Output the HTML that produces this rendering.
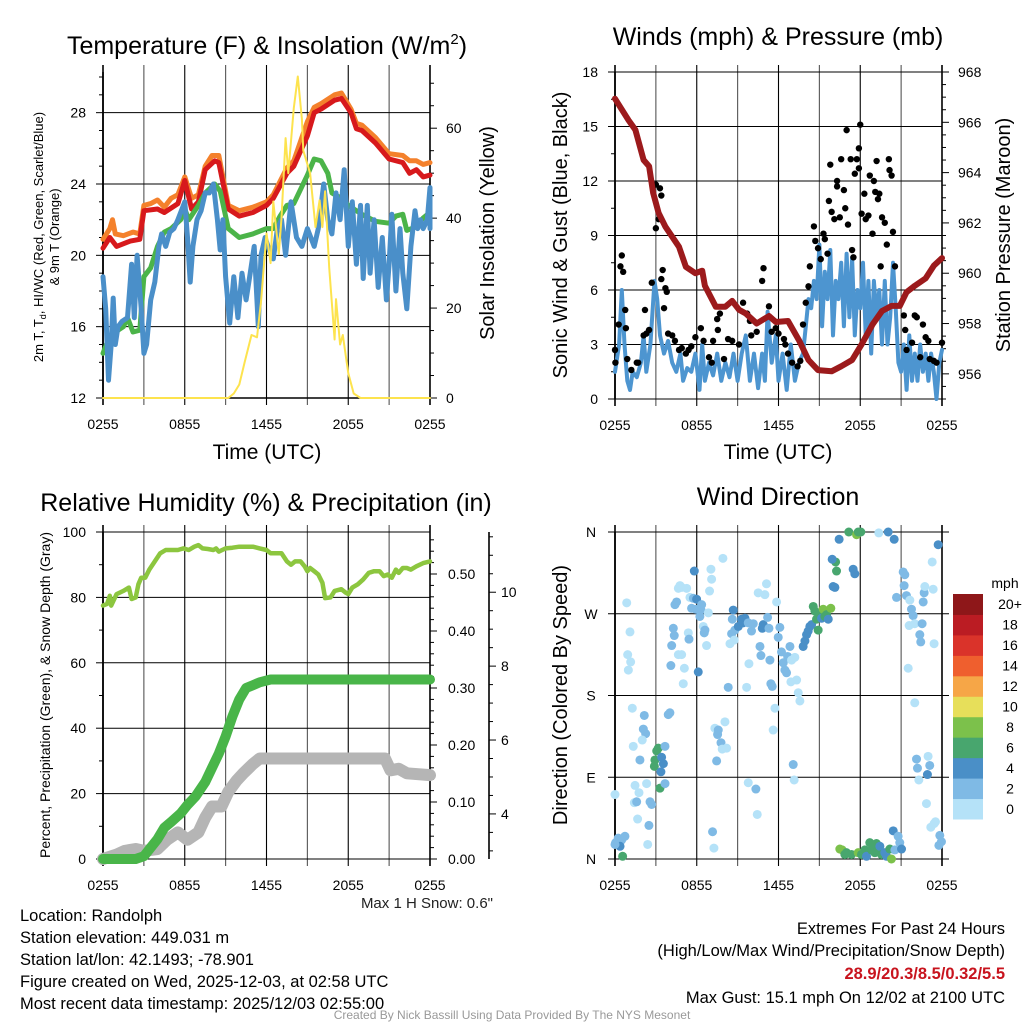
<!DOCTYPE html>
<html><head><meta charset="utf-8"><style>
body{margin:0;background:#fff}
svg{display:block;font-family:"Liberation Sans",sans-serif}
</style></head><body>
<svg id="s" width="1024" height="1024" viewBox="0 0 1024 1024" xmlns="http://www.w3.org/2000/svg">
<g font-size="25" text-anchor="middle" fill="#000">
<text x="267" y="54">Temperature (F) &amp; Insolation (W/m<tspan dy="-10" font-size="15">2</tspan><tspan dy="10">)</tspan></text>
<text x="778" y="45">Winds (mph) &amp; Pressure (mb)</text>
<text x="266" y="511">Relative Humidity (%) &amp; Precipitation (in)</text>
<text x="778" y="505">Wind Direction</text>
</g>
<g text-anchor="middle" fill="#000">
<text x="267" y="459" font-size="21">Time (UTC)</text>
<text x="778" y="459" font-size="21">Time (UTC)</text>
<text transform="translate(43,237) rotate(-90)" font-size="13">2m T, T<tspan font-size="9" dy="3">d</tspan><tspan dy="-3">, HI/WC (Red, Green, Scarlet/Blue)</tspan></text>
<text transform="translate(59,237) rotate(-90)" font-size="13">&amp; 9m T (Orange)</text>
<text transform="translate(494,233) rotate(-90)" font-size="20">Solar Insolation (Yellow)</text>
<text transform="translate(567,235) rotate(-90)" font-size="20">Sonic Wind &amp; Gust (Blue, Black)</text>
<text transform="translate(1010,235) rotate(-90)" font-size="20">Station Pressure (Maroon)</text>
<text transform="translate(50,695) rotate(-90)" font-size="14">Percent, Precipitation (Green), &amp; Snow Depth (Gray)</text>
<text transform="translate(567,695) rotate(-90)" font-size="20">Direction (Colored By Speed)</text>
</g>
<g id="plots"></g>
<g font-size="16.5" fill="#000">
<text x="493" y="908" text-anchor="end" fill="#222" font-size="15">Max 1 H Snow: 0.6"</text>
<text x="20" y="921">Location: Randolph</text>
<text x="20" y="943">Station elevation: 449.031 m</text>
<text x="20" y="965">Station lat/lon: 42.1493; -78.901</text>
<text x="20" y="987">Figure created on Wed, 2025-12-03, at 02:58 UTC</text>
<text x="20" y="1009">Most recent data timestamp: 2025/12/03 02:55:00</text>
<text x="1005" y="934" text-anchor="end">Extremes For Past 24 Hours</text>
<text x="1005" y="956" text-anchor="end">(High/Low/Max Wind/Precipitation/Snow Depth)</text>
<text x="1005" y="979" text-anchor="end" fill="#c8141e" font-weight="bold">28.9/20.3/8.5/0.32/5.5</text>
<text x="1005" y="1003" text-anchor="end">Max Gust: 15.1 mph On 12/02 at 2100 UTC</text>
<text x="512" y="1019" text-anchor="middle" font-size="12" fill="#999">Created By Nick Bassill Using Data Provided By The NYS Mesonet</text>
</g>
</svg>
<script>
// ---------- DATA ----------
const timeLabels=["0255","0855","1455","2055","0255"];
// Temperature panel
const redH=[0,0.5,1,2,2.7,3,4,4.5,5.5,6,6.5,7,7.5,8.2,8.5,9.2,10,11,12,12.5,13.5,14,15,15.5,16,17,17.5,18.2,18.6,19,20,21,22,22.5,23,23.5,24];
const redV=[20.4,21,20.5,20.8,20.9,22.5,22.6,22.4,22.9,24.2,22.6,23.0,24.8,25.3,25.2,22.6,22.2,22.4,22.8,23.2,24.6,25.0,26.7,28.0,28.2,28.7,28.8,28.0,27.1,27.0,26.3,25.4,25.2,24.6,24.8,24.4,24.5];
const orangeH=[0,0.5,0.7,0.9,1.5,2.2,2.7,3,3.5,4,4.5,5,5.5,6,6.5,7,7.5,8,8.5,9.2,10,11,12,12.5,13.5,14,15,15.5,16,17,17.5,18.2,18.6,19,20,21,22,22.5,23,23.5,24];
const orangeV=[20.9,21.5,22.0,21.2,21.1,21.3,21.2,22.8,22.9,23.1,22.7,23.2,23.4,24.4,23.2,23.4,25.0,25.6,25.6,22.8,22.5,22.7,23.0,23.4,24.9,25.3,27.5,28.3,28.5,29.0,29.1,28.2,27.4,27.3,26.6,25.7,25.6,25.3,25.3,25.1,25.2];
const dewH=[0,0.5,1.5,1.8,2.2,2.7,3,3.5,4,4.5,5,5.7,6,6.3,7,7.5,8.2,8.6,9.2,10,11,12,12.5,13,13.5,14,15,15.5,16,16.5,16.8,17.5,18,19,20,21,21.5,22,22.3,23,23.5,24];
const dewV=[14.5,15.5,16.0,16.5,15.7,15.8,18.8,19.3,20.5,21.3,21.5,22.0,22.6,22.0,22.8,23.5,24.0,23.6,21.5,21.0,21.2,21.5,21.5,22.2,22.8,22.9,24.5,25.4,25.3,24.6,23.5,23.2,22.8,22.3,21.9,21.8,22.2,22.3,21.4,21.6,22.1,22.4];
const chillH=[0,0.2,0.4,0.6,0.75,0.9,1.1,1.4,1.8,2.1,2.3,2.5,2.8,3.0,3.2,3.5,3.8,4.1,4.3,4.6,4.9,5.2,5.5,5.8,6.0,6.2,6.4,6.6,6.9,7.2,7.5,7.8,8.1,8.4,8.6,8.8,9.0,9.3,9.6,9.9,10.2,10.5,10.8,11.1,11.4,11.6,11.9,12.2,12.5,12.8,13.1,13.4,13.8,14.2,14.6,15.0,15.5,15.8,16.2,16.5,16.8,17.1,17.4,17.7,18.0,18.3,18.6,18.9,19.1,19.4,19.6,19.9,20.2,20.5,20.8,21.0,21.2,21.5,21.8,22.0,22.3,22.6,22.9,23.1,23.3,23.5,23.8,24.0,24.0];
const chillV=[18.8,17,13,15,17.6,15,16,16.3,16.5,19.5,16.5,20,17,14.5,15,17.5,18.5,20.5,21.2,20.5,21.3,21.5,22,22.6,23,21,18.5,20.5,22,22.5,23.5,23.5,24.0,22,20.3,22,18.8,16.2,18.8,16.5,19,17.5,19,20.5,16,20,21,20.3,19.8,21.5,22,20,23,21,20.5,21.5,20.5,21.5,24,22,21.2,23.5,22.0,24.8,20.5,23.0,19.5,22.8,18.7,22.8,19,22,18.2,21.0,17.5,19.5,22.3,18,21.5,19,17,20.5,22.5,21.5,22.0,21.5,22.0,23.8,21.5];
const solarH=[0,9.2,9.6,10.0,10.4,10.9,11.3,11.6,12.0,12.3,12.5,12.9,13.1,13.4,13.6,14.0,14.3,14.6,14.7,15.2,15.6,15.9,16.1,16.3,16.6,17.0,17.1,17.4,17.6,18.0,18.4,18.9,24];
const solarV=[0,0,1,3,8,14,13.5,21.4,36.6,30,43.7,32,40,57.8,50,64.5,71.5,62,55,50,38,44,38,46,29,13,22,11.9,14,5.5,1,0,0];
// Wind panel
const windH=[0,0.3,0.5,0.7,0.9,1.1,1.3,1.6,1.9,2.1,2.3,2.6,2.9,3.1,3.3,3.6,3.9,4.2,4.5,4.8,5.0,5.3,5.6,5.9,6.2,6.4,6.6,6.9,7.2,7.5,7.8,8.1,8.4,8.7,9.0,9.3,9.6,9.9,10.2,10.5,10.8,11.0,11.2,11.5,11.8,12.0,12.3,12.6,12.9,13.2,13.5,13.8,14.0,14.2,14.4,14.6,14.8,15.0,15.2,15.4,15.6,15.8,16.0,16.2,16.4,16.6,16.8,17.0,17.2,17.4,17.6,17.8,18.0,18.2,18.4,18.6,18.8,19.0,19.2,19.4,19.6,19.8,20.0,20.2,20.4,20.6,20.8,21.0,21.2,21.4,21.6,21.8,22.0,22.2,22.4,22.6,22.8,23.0,23.2,23.4,23.6,23.8,24];
const windV=[1.5,3,6,3,1,0.5,1.5,1.2,2,3.5,1.5,3,6.5,5.5,3.5,2.5,3.2,2,1.5,2.5,1,1.7,1.5,2.5,0.5,3,1,2,1.3,2.5,1,2,1.2,2.5,1,2.5,3.5,1,2.5,0.6,2.5,1,4.8,2,3.5,1,2.5,0.5,3,1,2,2.5,4,5.5,5,6.5,5.5,8.5,4,7,5.5,8.2,3.5,6.5,5.5,7.5,4,8.0,4.5,7.8,3.5,6,5,7.5,3.5,6.5,2.5,6.5,4.5,6,3,6.5,3,4.5,7.5,5,2,1.5,3,0.5,3.5,1,2.5,1,3,1.5,2.5,1,2.5,1.5,0,2,2.7];
const gustH=[0.5,0.4,0.6,0.75,0.8,0.27,0,0.03,0.9,1.2,1.6,1.7,2.2,2.1,2.3,2.7,2.5,3.0,3.3,3.4,3.0,3.2,3.5,3.4,3.7,3.8,3.6,3.9,4.2,4.4,4.7,4.9,5.2,5.4,5.6,5.9,6.3,6.5,6.9,7.1,7.2,7.5,7.7,7.55,8.0,8.3,8.6,9.1,9.4,9.7,9.9,10.0,10.4,10.8,10.9,11.3,11.5,11.8,12.0,12.4,12.5,12.7,13.0,13.4,13.6,13.8,14.0,14.2,14.3,14.6,14.7,14.9,15.1,15.3,15.4,15.6,15.8,15.7,15.9,16.1,16.3,16.3,16.5,16.6,16.8,16.9,17.0,17.1,17.3,17.4,17.5,17.6,17.75,17.9,17.9,18.0,18.1,18.3,18.4,18.6,18.7,18.9,19.0,19.1,19.2,19.3,19.4,19.5,19.6,19.8,19.95,20.1,20.15,20.3,20.4,20.55,21.2,21.3,21.4,21.8,22.0,22.15,22.4,22.6,22.8,23.0,23.1,23.4,23.6,24];
const gustV=[7.9,7.3,7.0,4.9,3.9,4.1,2.7,2.0,2.2,1.6,2.0,2.0,4.9,3.5,3.6,6.4,3.8,11.8,11.6,11.2,9.4,9.9,7.1,6.6,6.1,5.9,5.0,3.6,3.5,3.2,2.7,2.8,2.5,2.7,2.9,3.4,3.9,3.2,2.3,2.0,3.2,4.4,4.7,3.8,2.2,3.3,3.2,3.0,5.3,4.7,4.3,3.5,3.7,6.5,7.2,5.1,3.7,3.9,3.6,3.3,3.0,2.5,2.0,1.8,2.1,4.1,5.3,6.2,7.3,9.5,8.7,8.3,7.7,9.1,8.8,8.0,12.9,10.9,10.3,9.9,12.0,11.7,10.0,13.2,11.5,10.5,14.8,9.6,13.2,8.2,7.8,12.4,13.2,12.7,13.8,15.1,10.2,11.3,9.9,10.1,12.3,9.1,12.0,11.4,13.1,11.0,11.3,7.3,10.0,9.7,8.5,13.2,12.6,12.3,9.2,7.3,4.6,3.8,2.7,3.1,4.6,4.5,2.3,4.1,3.4,3.2,2.2,2.1,2.0,3.1];
const presH=[0,1,1.5,2.1,2.5,2.8,3.2,3.7,4.7,5.2,5.9,6.4,6.6,7.4,8.1,8.6,9.1,9.6,10.4,11.3,11.8,12.7,13.5,14.2,14.9,15.9,16.6,17.4,18.1,18.9,19.6,20.3,20.9,21.4,22.0,22.8,23.4,24];
const presV=[966.94,966.08,965.7,964.5,964.25,963.2,962.4,961.85,961.05,960.25,960.0,960.1,959.5,958.67,958.67,958.9,958.55,958.4,958.0,958.3,958.06,958.1,957.34,956.55,956.15,956.1,956.3,956.55,957.17,957.96,958.5,958.7,958.7,959.25,959.5,959.8,960.3,960.6];
// Humidity panel
const rhH=[0,0.3,0.5,0.6,1.0,1.5,1.9,2.1,2.4,2.6,2.8,3.1,3.4,3.8,4.2,4.6,5.0,5.5,5.9,6.3,6.7,7.0,7.3,7.7,8.1,8.3,8.5,9.0,9.5,10,10.5,11,11.5,12,12.3,12.7,13.1,13.5,13.8,14.1,14.5,14.8,15.0,15.2,15.5,15.8,16.1,16.3,16.7,17.0,17.5,17.8,18.0,18.3,18.7,19.1,19.5,19.9,20.3,20.6,20.9,21.2,21.5,21.7,22.0,22.3,22.6,23.0,23.5,24];
const rhV=[77.5,78,80.5,77.5,81,82,83,79.5,80,84,86,86,88.5,91,93.5,94.5,94.5,94.5,95,94.5,95.5,96,95,94.8,94.5,95,94,95,95.2,95.5,95.5,95.5,95,94.5,93.5,93.5,93.5,91,90,91,91,89.5,88,89,88,87,84.5,79.8,80,82,82.5,81.5,81,83,84,85.5,87.5,88,88,86.5,87,86,88.5,87.5,89,89,88.5,89.5,90.5,91];
const precipH=[0,2.4,3,3.5,4,4.5,5,5.7,6.2,6.8,7.5,8,8.5,9,9.5,10,10.5,11,11.5,12.3,24];
const precipV=[0,0,0.005,0.02,0.035,0.055,0.065,0.08,0.095,0.11,0.135,0.16,0.185,0.215,0.25,0.28,0.30,0.305,0.31,0.315,0.315];
const snowH=[0,1,1.6,2.4,3,4,4.7,5.5,6.2,7,7.5,8,8.7,9.2,9.8,10.3,11,11.5,20.7,21.1,21.7,22.3,24];
const snowV=[2.78,2.9,3.0,3.05,3.0,3.05,3.3,3.5,3.3,3.5,3.9,4.2,4.2,4.6,4.9,5.1,5.35,5.5,5.5,5.18,5.22,5.1,5.05];
// Wind direction panel
const dirH=[0,0.05,0.24,0.49,0.73,0.37,0.56,0,0.86,1.1,0.93,1.15,0.98,1.27,1.34,1.47,1.76,1.42,1.59,1.66,2.15,2.08,2.25,2.0,1.83,2.32,2.57,2.69,2.49,2.4,2.93,3.06,3.18,2.89,3.42,3.55,3.37,3.3,3.67,3.67,3.91,4.03,4.1,4.16,4.28,4.35,4.4,4.52,4.65,4.77,4.89,4.65,4.89,5.09,5.01,5.26,5.38,5.43,5.5,5.62,5.75,5.82,5.92,5.99,6.11,6.23,6.31,6.36,6.48,6.55,6.6,6.72,6.85,6.94,7.04,7.09,7.16,7.26,7.33,7.53,7.58,7.46,7.78,7.87,8.19,8.07,7.92,8.31,8.44,8.56,8.61,8.68,8.8,8.75,9.05,9.29,9.54,9.41,9.78,10.02,10.15,9.66,9.78,9.83,10.34,10.44,10.51,10.64,10.71,10.81,10.88,11.0,11.12,11.2,11.3,11.37,11.44,11.54,11.61,11.74,11.86,11.98,12.1,12.22,12.35,12.47,12.59,12.67,12.84,12.91,12.96,13.08,13.15,13.2,13.33,13.45,13.57,13.81,13.94,14.06,14.18,14.3,14.43,14.55,14.67,14.79,14.91,15.04,15.16,15.28,15.4,15.53,15.65,15.84,16.01,16.14,16.19,15.94,16.26,16.45,16.5,16.67,16.87,16.99,17.16,17.36,17.73,17.85,18.04,17.48,17.6,17.85,18.09,18.34,18.46,18.7,18.83,19.07,19.19,19.32,19.44,19.56,19.8,19.93,20.17,20.29,20.42,20.54,20.78,20.9,21.03,19.36,20.05,20.49,20.66,21.15,21.27,21.22,21.39,21.64,21.76,21.88,21.59,22.0,22.54,22.37,22.44,21.52,22.0,22.13,22.2,22.3,22.98,23.1,22.93,22.86,23.18,23.52,23.42,23.84,23.96,23.77,22.69,22.74,22.62,23.28,23.35,23.42,23.72];
const dirDeg=[71,18,23,21,25,14,3,16,282,250,225,217,208,166,124,81,73,62,63,44,158,143,138,131,109,83,63,60,37,16,109,119,122,102,112,105,96,78,83,124,159,161,213,235,254,246,280,283,298,301,299,225,225,210,193,298,249,242,288,276,287,317,275,286,206,267,274,280,256,249,252,235,271,295,319,308,30,12,144,137,142,108,128,121,122,151,331,189,237,248,264,274,252,241,256,264,265,260,260,251,259,189,84,215,77,49,293,234,224,254,258,291,303,266,254,219,193,190,142,166,283,244,255,228,216,208,205,223,234,195,219,104,87,222,197,183,174,234,240,247,251,256,258,278,273,264,252,269,265,275,267,269,264,276,300,299,327,330,317,352,11,10,5,7,360,5,357,360,360,319,314,7,5,10,3,18,10,7,17,10,14,5,7,3,11,0,31,10,25,18,11,359,360,352,288,316,313,301,290,285,275,268,257,259,259,247,239,210,172,110,100,87,113,103,93,61,35,41,39,26,19,15,293,300,283,327,297,237,346];
const dirSpd=[1,3,3,3,3,5,7,3,1,1,1,1,1,1,1,1,1,1,3,1,3,3,3,1,3,1,3,3,3,1,7,7,7,7,5,5,5,7,3,3,3,3,3,3,3,3,3,3,1,1,1,1,1,1,1,1,1,3,1,3,3,5,3,5,5,3,3,3,1,3,3,1,1,1,1,1,3,1,1,3,3,3,3,1,1,1,1,3,1,3,3,5,3,1,5,5,5,5,3,3,3,1,1,1,3,1,1,3,3,5,5,1,1,3,3,3,3,3,1,1,1,3,3,3,3,3,3,3,3,1,1,3,1,1,1,1,1,5,5,5,5,5,5,7,7,7,7,7,5,9,7,7,5,9,5,5,7,5,7,5,9,9,7,7,7,7,9,7,7,5,5,9,7,7,5,7,7,7,7,7,5,7,5,5,7,9,5,3,3,3,5,1,5,5,3,3,3,3,3,1,3,3,1,1,3,3,3,1,1,3,3,1,1,3,5,1,1,1,1,3,3,3,3,1,3,1,1,1,5];
const speedLabels=["0","2","4","6","8","10","12","14","16","18","20+"];
const speedColors=["#b5e2f8","#7fbae5","#4a8fc7","#48a66e","#7cc14b","#e7df5a","#f6a647","#ef5f2e","#da332a","#bb1c23","#8e1719"];

// ---------- RENDER ----------
const NS="http://www.w3.org/2000/svg";
const root=document.getElementById('plots');
function mk(tag,attrs,parent){const e=document.createElementNS(NS,tag);for(const k in attrs)e.setAttribute(k,attrs[k]);(parent||root).appendChild(e);return e;}
function pathD(hs,vs,xf,yf){let d="";for(let i=0;i<hs.length;i++){d+=(i?"L":"M")+xf(hs[i]).toFixed(1)+","+yf(vs[i]).toFixed(1);}return d;}

function frame(L,R,T,B,name){
  const g=mk('g',{});
  
  
  const xf=h=>L+h*(R-L)/24;
  for(let k=0;k<=8;k++){
    const x=xf(k*3);
    const ln=mk('line',{x1:x,x2:x,y1:T-7,y2:B+7,stroke:(k%2?'#555':'#000'),'stroke-width':(k==0||k==8)?1.6:1.1},g);
    
    
  }
  for(let k=0;k<5;k++){
    const t=mk('text',{x:xf(k*6),y:B+31,'font-size':14,'text-anchor':'middle'},g);
    t.textContent=timeLabels[k];
    
    
  }
  return {g,xf};
}
function yaxis(g,side,x,T,B,lo,hi,major,minor,fmt,hline,L,R,lblX,anchor){
  const yf=v=>B-(v-lo)*(B-T)/(hi-lo);
  const dir=side=='left'?-1:1;
  for(let v=Math.ceil(lo/minor-1e-9)*minor;v<=hi+1e-9;v+=minor){
    const y=yf(v);const isMaj=Math.abs(v/major-Math.round(v/major))<1e-6;
    mk('line',{x1:x,x2:x+dir*(isMaj?7:4),y1:y,y2:y,stroke:'#000','stroke-width':1},g);
    if(isMaj){
      if(hline){const hl=mk('line',{x1:L,x2:R,y1:y,y2:y,stroke:'#000','stroke-width':1},g);
        
        }
      const t=mk('text',{x:lblX,y:y+5,'font-size':14,'text-anchor':anchor},g);
      t.textContent=fmt(v);
      
      
    }
  }
  return yf;
}
function line(hs,vs,xf,yf,color,w,name){
  const p=mk('path',{d:pathD(hs,vs,xf,yf),fill:'none',stroke:color,'stroke-width':w,'stroke-linejoin':'round','stroke-linecap':'round'});
  
  
  return p;
}

// Panel 1: temperature
(function(){
  const L=103,R=430,T=72,B=398;
  const {g,xf}=frame(L,R,T,B,'temperature');
  const yf=yaxis(g,'left',L,T,B,12,30.28,4,1,v=>String(v),true,L,R,86,'end');
  const yr=yaxis(g,'right',R,T,B,0,72.5,20,5,v=>String(v),false,L,R,446,'start');
  mk('line',{x1:L,x2:L,y1:T,y2:B,stroke:'#000','stroke-width':1.6},g);
  mk('line',{x1:L,x2:R,y1:B,y2:B,stroke:'#000','stroke-width':1.6},g);
  line(orangeH,orangeV,xf,yf,'#f4812c',5,'orange-9m-temp-line');
  line(redH,redV,xf,yf,'#d7191c',5,'red-2m-temp-line');
  line(dewH,dewV,xf,yf,'#4bb449',5,'green-dewpoint-line');
  line(chillH,chillV,xf,yf,'#4a8fc9',5,'blue-windchill-line');
  line(solarH,solarV,xf,yr,'#fde34e',2,'yellow-insolation-line');
})();

// Panel 2: winds
(function(){
  const L=615,R=942,T=72,B=399;
  const {g,xf}=frame(L,R,T,B,'winds');
  const yf=yaxis(g,'left',L,T,B,0,18,3,1.5,v=>String(v),true,L,R,598,'end');
  const yp=yaxis(g,'right',R,T,B,955,968,2,0.5,v=>String(v),false,L,R,958,'start');
  mk('line',{x1:L,x2:L,y1:T,y2:B,stroke:'#000','stroke-width':1.6},g);
  line(windH,windV,xf,yf,'#4d95d0',4,'blue-sonic-wind-line');
  for(let i=0;i<gustH.length;i++){
    const c=mk('circle',{cx:xf(gustH[i]),cy:yf(gustV[i]),r:3.2,fill:'#000'});
    
    
  }
  line(presH,presV,xf,yp,'#9c1a1c',6,'maroon-pressure-line');
})();

// Panel 3: humidity
(function(){
  const L=103,R=430,T=532,B=859;
  const {g,xf}=frame(L,R,T,B,'humidity');
  const yf=yaxis(g,'left',L,T,B,0,100,20,10,v=>String(v),true,L,R,86,'end');
  const yp=yaxis(g,'right',R,T,B,0,0.5737,0.1,0.02,v=>v.toFixed(2),false,L,R,448,'start');
  const ys=yaxis(g,'right',489,T,B,2.78,11.63,2,0.5,v=>String(v),false,L,R,501,'start');
  mk('line',{x1:489,x2:489,y1:T,y2:B,stroke:'#000','stroke-width':1.6},g);
  mk('line',{x1:L,x2:L,y1:T,y2:B,stroke:'#000','stroke-width':1.6},g);
  line(rhH,rhV,xf,yf,'#8cc63f',4.5,'rh-line');
  line(snowH,snowV,xf,ys,'#b5b5b5',12,'gray-snow-depth-line');
  line(precipH,precipV,xf,yp,'#49b549',10,'green-precip-line');
})();

// Panel 4: wind direction
(function(){
  const L=615,R=942,T=532,B=859;
  const {g,xf}=frame(L,R,T,B,'wind-direction');
  const yf=v=>B-v*(B-T)/360;
  const dl=["N","E","S","W","N"];
  for(let k=0;k<5;k++){
    const y=yf(k*90);
    mk('line',{x1:L-7,x2:R+7,y1:y,y2:y,stroke:'#000','stroke-width':1},g);
    const t=mk('text',{x:591,y:y+5,'font-size':14,'text-anchor':'middle'},g);
    t.textContent=dl[k];
    
    
  }
  mk('line',{x1:L,x2:L,y1:T,y2:B,stroke:'#000','stroke-width':1.6},g);
  for(let i=0;i<dirH.length;i++){
    const bin=Math.min(10,Math.floor(dirSpd[i]/2));
    const c=mk('circle',{cx:xf(dirH[i]),cy:yf(dirDeg[i]),r:4.5,fill:speedColors[bin]});
    
    
  }
  // colorbar
  const cb=mk('g',{});
  
  
  const t0=mk('text',{x:1005,y:588,'font-size':14,'text-anchor':'middle'},cb);
  t0.textContent='mph';
  const bh=(819-594)/11;
  for(let k=0;k<11;k++){
    const y=819-(k+1)*bh;
    const r=mk('rect',{x:953,y:y,width:30,height:bh+0.5,fill:speedColors[k]},cb);
    
    
    const t=mk('text',{x:1010,y:y+bh/2+5,'font-size':14,'text-anchor':'middle'},cb);
    t.textContent=speedLabels[k];
    
    
  }
})();
</script>
</body></html>
